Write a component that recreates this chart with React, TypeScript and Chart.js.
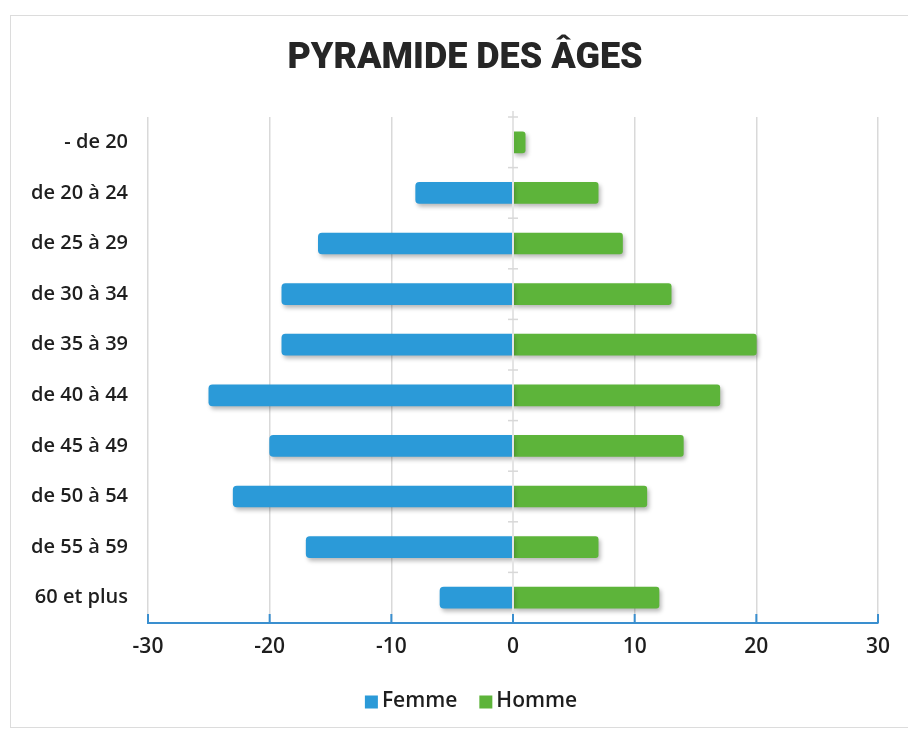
import React, { useEffect, useRef } from "react";
import { Chart, registerables } from "chart.js";

Chart.register(...registerables);

// Age groups, top to bottom
const ageGroups = [
  "- de 20",
  "de 20 à 24",
  "de 25 à 29",
  "de 30 à 34",
  "de 35 à 39",
  "de 40 à 44",
  "de 45 à 49",
  "de 50 à 54",
  "de 55 à 59",
  "60 et plus",
];

// Women are plotted on the negative side of the axis
const femme = [0, -8, -16, -19, -19, -25, -20, -23, -17, -6];
const homme = [1, 7, 9, 13, 20, 17, 14, 11, 7, 12];

const xTicks = [-30, -20, -10, 0, 10, 20, 30];

const TITLE = "PYRAMIDE DES ÂGES";

const BLUE = "#2b9ad8";
const GREEN = "#5db43a";
const AXIS_BLUE = "#3a8fcf";
const LABEL_FONT = "'Open Sans', 'DejaVu Sans', sans-serif";

// Soft drop shadow under each bar
const barShadow = {
  id: "barShadow",
  beforeDatasetDraw(chart: any) {
    const ctx = chart.ctx;
    ctx.save();
    ctx.shadowColor = "rgba(0,0,0,0.28)";
    ctx.shadowBlur = 4;
    ctx.shadowOffsetX = 2;
    ctx.shadowOffsetY = 3;
  },
  afterDatasetDraw(chart: any) {
    chart.ctx.restore();
  },
};

// Vertical category axis at zero with small tick marks, and the blue value axis ticks
const axisDecor = {
  id: "axisDecor",
  afterDatasetsDraw(chart: any) {
    const { ctx, chartArea, scales } = chart;
    const x = scales.x;
    const x0 = x.getPixelForValue(0);
    const step = (chartArea.bottom - chartArea.top) / ageGroups.length;
    ctx.save();
    ctx.strokeStyle = "#e4e4e4";
    ctx.lineWidth = 2;
    ctx.beginPath();
    ctx.moveTo(x0, chartArea.top - 6);
    ctx.lineTo(x0, chartArea.bottom);
    ctx.stroke();
    ctx.lineWidth = 1.5;
    ctx.strokeStyle = "#d8d8d8";
    for (let i = 0; i < ageGroups.length; i++) {
      const yy = chartArea.top + i * step;
      ctx.beginPath();
      ctx.moveTo(x0 - 5, yy);
      ctx.lineTo(x0 + 5, yy);
      ctx.stroke();
    }
    ctx.strokeStyle = AXIS_BLUE;
    ctx.lineWidth = 2;
    xTicks.forEach((v) => {
      const px = x.getPixelForValue(v);
      ctx.beginPath();
      ctx.moveTo(px, chartArea.bottom - 9);
      ctx.lineTo(px, chartArea.bottom);
      ctx.stroke();
    });
    ctx.restore();
  },
};

// Title above the plot and the series key below the value axis
const headerAndKey = {
  id: "headerAndKey",
  afterDraw(chart: any) {
    const ctx = chart.ctx;
    const cx = 465;
    ctx.save();
    ctx.fillStyle = "#262626";
    ctx.font = "900 36px Roboto, 'DejaVu Sans', sans-serif";
    ctx.textAlign = "center";
    ctx.textBaseline = "middle";
    ctx.fillText(TITLE, cx, 59);

    const items = chart.data.datasets.map((d: any) => ({ label: d.label, color: d.backgroundColor }));
    ctx.font = `600 21px ${LABEL_FONT}`;
    const box = 13;
    const gap = 4;
    const itemGap = 22;
    const widths = items.map((it: any) => box + gap + ctx.measureText(it.label).width);
    const total = widths.reduce((a: number, b: number) => a + b, 0) + itemGap * (items.length - 1);
    let x = 471 - total / 2;
    const y = 701;
    ctx.textAlign = "left";
    items.forEach((it: any, i: number) => {
      ctx.fillStyle = it.color;
      ctx.fillRect(x, y - box / 2 + 1, box, box);
      ctx.fillStyle = "#1e1e1e";
      ctx.fillText(it.label, x + box + gap, y);
      x += widths[i] + itemGap;
    });
    ctx.restore();
  },
};

export default function App() {
  const canvasRef = useRef<HTMLCanvasElement | null>(null);

  useEffect(() => {
    if (!canvasRef.current) return;
    const chart = new Chart(canvasRef.current, {
      type: "bar",
      data: {
        labels: ageGroups,
        datasets: [
          {
            label: "Femme",
            data: femme,
            backgroundColor: BLUE,
            barThickness: 21,
            borderRadius: 4,
          },
          {
            label: "Homme",
            data: homme,
            backgroundColor: GREEN,
            barThickness: 21,
            borderRadius: 3,
          },
        ],
      },
      options: {
        indexAxis: "y",
        responsive: false,
        animation: false,
        layout: { padding: { left: 0, right: 30, top: 117, bottom: 55 } },
        scales: {
          x: {
            stacked: true,
            min: -30,
            max: 30,
            afterBuildTicks(scale: any) {
              scale.ticks = xTicks.map((v) => ({ value: v }));
            },
            grid: { color: "#d9d9d9", lineWidth: 1.5, drawTicks: false },
            border: { display: true, color: AXIS_BLUE, width: 2 },
            ticks: {
              padding: 11,
              color: "#1e1e1e",
              font: { family: LABEL_FONT, size: 21, weight: "600" },
            },
            afterFit(scale: any) {
              scale.height = 57;
            },
          },
          y: {
            stacked: true,
            grid: { display: false, drawTicks: false },
            border: { display: false },
            ticks: {
              padding: 20,
              color: "#1e1e1e",
              font: { family: LABEL_FONT, size: 20, weight: "600" },
            },
            afterFit(scale: any) {
              scale.width = 148;
            },
          },
        },
        plugins: {
          title: { display: false },
          legend: { display: false },
          tooltip: { enabled: false },
        },
      },
      plugins: [barShadow, axisDecor, headerAndKey],
    });
    return () => chart.destroy();
  }, []);

  return (
    <div style={{ position: "absolute", left: 0, top: 0, width: 908, height: 735, background: "#fff", overflow: "hidden" }}>
      <div
        style={{
          position: "absolute",
          left: 10,
          top: 15,
          width: 906,
          height: 713,
          border: "1.5px solid #dcdcdc",
          boxSizing: "border-box",
        }}
      />
      <canvas ref={canvasRef} width={908} height={735} style={{ position: "absolute", left: 0, top: 0 }} />
    </div>
  );
}
